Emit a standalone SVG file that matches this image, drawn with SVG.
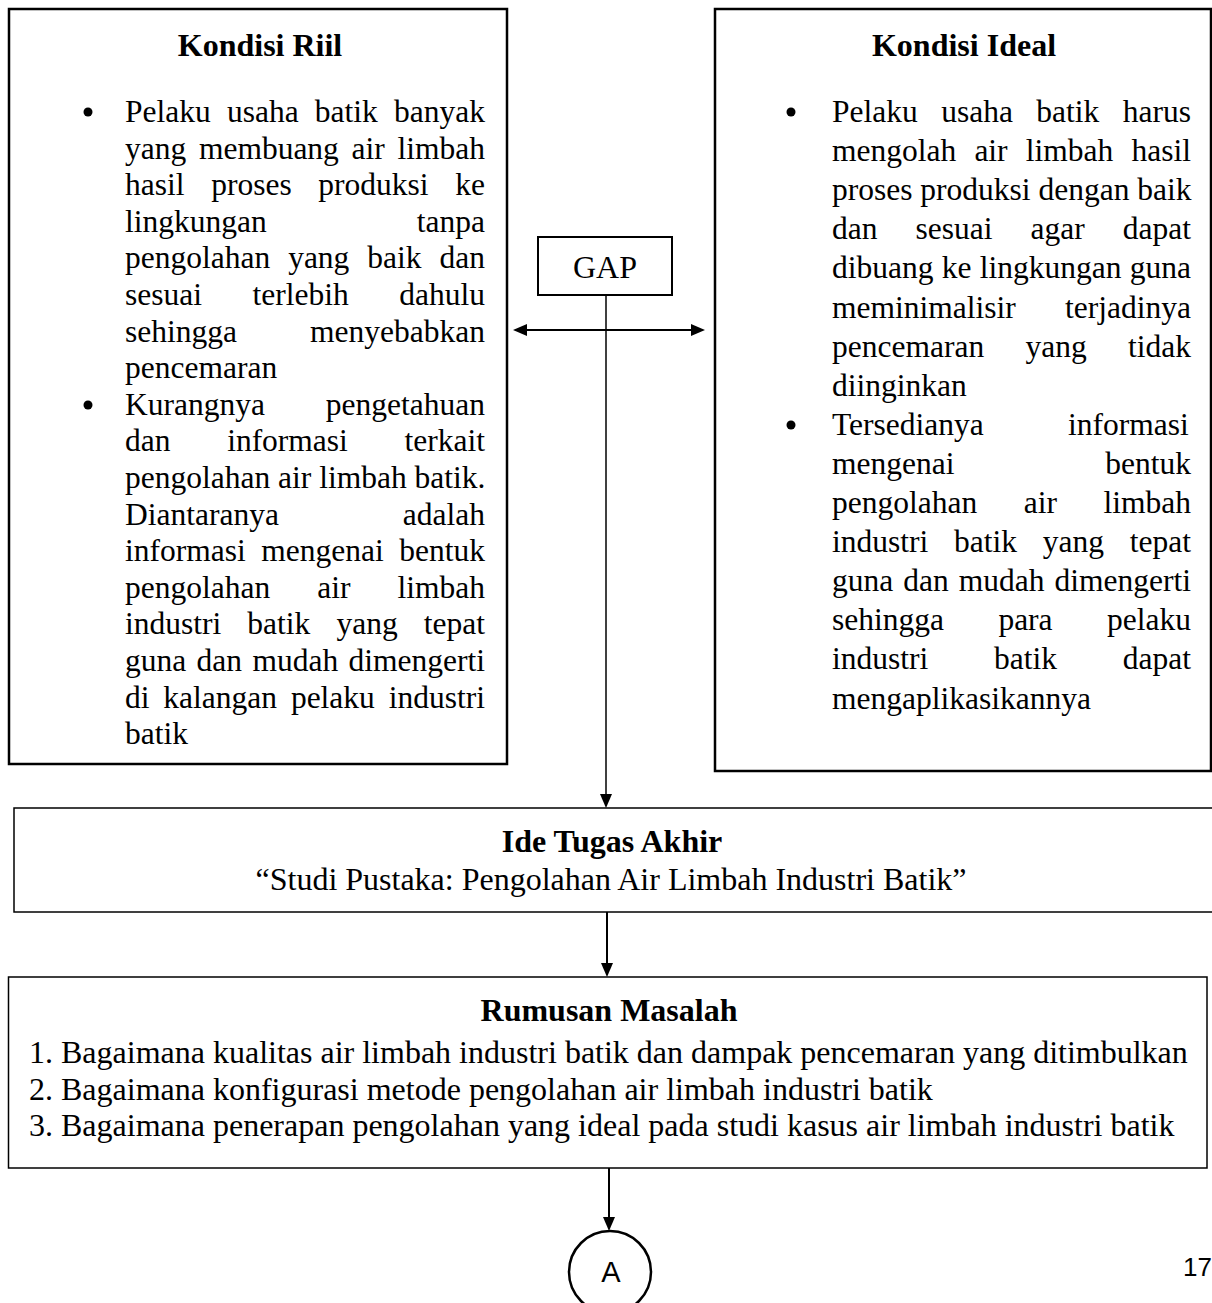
<svg xmlns="http://www.w3.org/2000/svg" width="1212" height="1303" viewBox="0 0 1212 1303">
<defs>
<style>
.box{fill:#fff;stroke:#000}
.t{font-family:"Liberation Serif","Times New Roman",serif;font-size:31.5px;fill:#000}
.m{font-family:"Liberation Serif","Times New Roman",serif;font-size:32px;fill:#000}
.b{font-weight:bold}
.c{text-anchor:middle}
.s{font-family:"Liberation Sans",Arial,sans-serif;fill:#000}
.cn{stroke:#000;fill:none}
</style>
<marker id="ah" viewBox="0 0 14 12" markerWidth="14" markerHeight="12" refX="6" refY="6" orient="auto-start-reverse" markerUnits="userSpaceOnUse"><path d="M0,0 L14,6 L0,12 z" fill="#000"/></marker>
</defs>
<rect width="1212" height="1303" fill="#fff"/>

<g id="kondisi-riil">
<rect class="box" x="9" y="9" width="498" height="755" stroke-width="2.5"/>
<text class="m b c" x="260" y="56">Kondisi Riil</text>
<circle cx="88" cy="112" r="4.5"/>
<circle cx="88" cy="405" r="4.5"/>
<g class="t">
<text x="125" y="122" word-spacing="8.31">Pelaku usaha batik banyak</text>
<text x="125" y="158.6" word-spacing="4.8">yang membuang air limbah</text>
<text x="125" y="195.2" word-spacing="18.8">hasil proses produksi ke</text>
<text x="125" y="231.8" word-spacing="142.15">lingkungan tanpa</text>
<text x="125" y="268.4" word-spacing="10.07">pengolahan yang baik dan</text>
<text x="125" y="305" word-spacing="42.65">sesuai terlebih dahulu</text>
<text x="125" y="341.6" word-spacing="65.2">sehingga menyebabkan</text>
<text x="125" y="378.2">pencemaran</text>
<text x="125" y="414.8" word-spacing="52.97">Kurangnya pengetahuan</text>
<text x="125" y="451.4" word-spacing="48.77">dan informasi terkait</text>
<text x="125" y="488">pengolahan air limbah batik.</text>
<text x="125" y="524.6" word-spacing="115.97">Diantaranya adalah</text>
<text x="125" y="561.2" word-spacing="7.65">informasi mengenai bentuk</text>
<text x="125" y="597.8" word-spacing="39.15">pengolahan air limbah</text>
<text x="125" y="634.4" word-spacing="18.21">industri batik yang tepat</text>
<text x="125" y="671" word-spacing="2.47">guna dan mudah dimengerti</text>
<text x="125" y="707.6" word-spacing="5.97">di kalangan pelaku industri</text>
<text x="125" y="744.2">batik</text>
</g>
</g>

<g id="kondisi-ideal">
<rect class="box" x="715" y="9" width="496" height="762" stroke-width="2.5"/>
<text class="m b c" x="964" y="56">Kondisi Ideal</text>
<circle cx="791" cy="112" r="4.5"/>
<circle cx="791" cy="425" r="4.5"/>
<g class="t">
<text x="832" y="122" word-spacing="15.56">Pelaku usaha batik harus</text>
<text x="832" y="161.1" word-spacing="10.3">mengolah air limbah hasil</text>
<text x="832" y="200.2">proses produksi dengan baik</text>
<text x="832" y="239.3" word-spacing="30.15">dan sesuai agar dapat</text>
<text x="832" y="278.4" word-spacing="0.39">dibuang ke lingkungan guna</text>
<text x="832" y="317.5" word-spacing="41.4">meminimalisir terjadinya</text>
<text x="832" y="356.6" word-spacing="33.42">pencemaran yang tidak</text>
<text x="832" y="395.7">diinginkan</text>
<text x="832" y="434.8" word-spacing="76.44">Tersedianya informasi</text>
<text x="832" y="473.9" word-spacing="142.91">mengenai bentuk</text>
<text x="832" y="513" word-spacing="38.65">pengolahan air limbah</text>
<text x="832" y="552.1" word-spacing="17.88">industri batik yang tepat</text>
<text x="832" y="591.2" word-spacing="2.14">guna dan mudah dimengerti</text>
<text x="832" y="630.3" word-spacing="46.54">sehingga para pelaku</text>
<text x="832" y="669.4" word-spacing="57.88">industri batik dapat</text>
<text x="832" y="708.5">mengaplikasikannya</text>
</g>
</g>

<g id="gap">
<rect class="box" x="538" y="237" width="134" height="58" stroke-width="2"/>
<text class="m c" x="605" y="278">GAP</text>
</g>

<g id="ide-tugas-akhir">
<rect class="box" x="14" y="808" width="1202" height="104" stroke-width="1.5"/>
<text class="m b c" x="612" y="852">Ide Tugas Akhir</text>
<text class="m c" x="611" y="890">“Studi Pustaka: Pengolahan Air Limbah Industri Batik”</text>
</g>

<g id="rumusan-masalah">
<rect class="box" x="8.5" y="977" width="1198.5" height="191" stroke-width="1.5"/>
<text class="m b c" x="609" y="1021">Rumusan Masalah</text>
<text class="m" x="29" y="1063">1. Bagaimana kualitas air limbah industri batik dan dampak pencemaran yang ditimbulkan</text>
<text class="m" x="29" y="1099.6">2. Bagaimana konfigurasi metode pengolahan air limbah industri batik</text>
<text class="m" x="29" y="1136.2">3. Bagaimana penerapan pengolahan yang ideal pada studi kasus air limbah industri batik</text>
</g>

<g id="connector-a">
<circle cx="610" cy="1272" r="41" fill="#fff" stroke="#000" stroke-width="2.5"/>
<text class="s c" x="611" y="1282" font-size="29">A</text>
</g>

<text id="page-number" class="s" x="1183" y="1276" font-size="26">17</text>

<g id="connectors" class="cn">
<line x1="521" y1="330" x2="697" y2="330" stroke-width="2" marker-start="url(#ah)" marker-end="url(#ah)"/>
<line x1="606" y1="295" x2="606" y2="800" stroke-width="1.5" marker-end="url(#ah)"/>
<line x1="607" y1="912" x2="607" y2="969" stroke-width="2" marker-end="url(#ah)"/>
<line x1="609" y1="1168" x2="609" y2="1223" stroke-width="2" marker-end="url(#ah)"/>
</g>
</svg>
